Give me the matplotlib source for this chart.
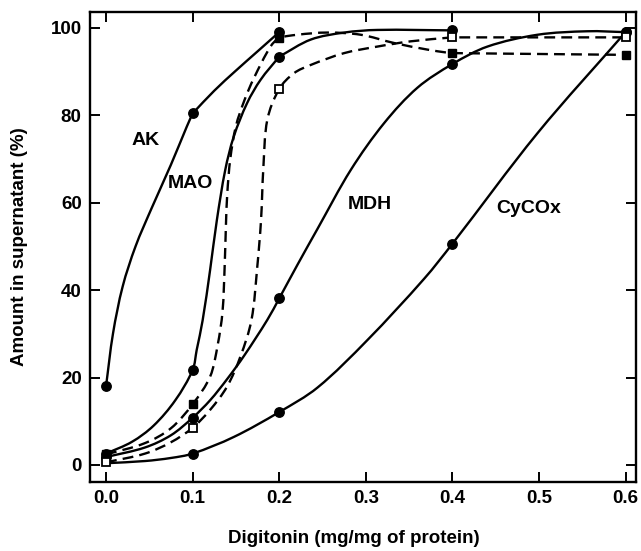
import matplotlib
matplotlib.use("Agg")
import matplotlib.pyplot as plt
from matplotlib.path import Path
from matplotlib.patches import PathPatch

plt.rcParams["font.family"] = ["Liberation Sans", "DejaVu Sans"]
plt.rcParams["font.weight"] = "bold"

# measured points (mg digitonin / mg protein -> % in supernatant)
doses = [0.0, 0.1, 0.2, 0.4, 0.6]
ak = [18.0, 80.4, 99.0]
mao = [2.6, 21.7, 93.4, 99.4]
mdh = [1.8, 10.8, 38.1, 91.7, 99.0]
cycox = [0.4, 2.6, 12.1, 50.6, 99.0]
filled_sq = [2.4, 13.9, 97.6, 94.2, 93.8]
open_sq = [0.6, 8.5, 86.0, 97.8, 97.8]

# points read along the hand-drawn curves between the measurements
ak_tx = [0.0081, 0.0192, 0.0341, 0.0526, 0.0748, 0.0933, 0.125, 0.15, 0.175]
ak_ty = [30.1, 40.8, 50.0, 58.7, 68.6, 77.4, 85.6, 90.2, 94.6]
mao_tx = [0.03, 0.055, 0.08, 0.1047, 0.1115, 0.1202, 0.128, 0.1377, 0.1475,
          0.163, 0.1785, 0.2365, 0.275, 0.3134]
mao_ty = [5.3, 9.0, 14.8, 26.3, 33.0, 44.6, 56.0, 67.5, 75.1,
          82.8, 88.1, 97.3, 98.9, 99.5]
mdh_tx = [0.045, 0.075, 0.1202, 0.1397, 0.1595, 0.1863, 0.2211, 0.2442,
          0.2827, 0.3212, 0.3597, 0.4405, 0.4983, 0.556]
mdh_ty = [4.0, 6.8, 14.8, 19.6, 25.0, 33.2, 45.8, 54.0,
          67.5, 78.2, 86.3, 95.7, 98.4, 99.2]
cycox_tx = [0.045, 0.075, 0.1475, 0.2442, 0.302, 0.3674, 0.4983]
cycox_ty = [0.9, 1.6, 6.4, 17.7, 28.6, 42.6, 75.9]
filled_tx = [0.045, 0.075, 0.1202, 0.129, 0.1345, 0.137, 0.1385, 0.14,
             0.1435, 0.15, 0.16, 0.1708, 0.19, 0.2211, 0.2558, 0.2942,
             0.3328, 0.3712, 0.3943]
filled_ty = [5.0, 8.4, 20.2, 27.5, 35.0, 45.4, 55.0, 62.0,
             70.0, 77.5, 83.5, 88.5, 95.7, 98.4, 98.9, 98.4,
             96.5, 95.0, 94.3]
open_tx = [0.045, 0.075, 0.1202, 0.1397, 0.1552, 0.168, 0.1747, 0.179,
           0.1817, 0.1863, 0.217, 0.2365, 0.275, 0.3135, 0.352]
open_ty = [2.6, 5.2, 12.6, 17.9, 24.8, 33.2, 45.4, 56.0,
           68.0, 79.0, 89.6, 91.5, 94.2, 95.7, 96.9]

labels = ["AK", "MAO", "MDH", "CyCOx"]
label_x = [0.0456, 0.097, 0.305, 0.488]
label_y = [74.1, 64.4, 59.6, 58.7]

XSPAN, YSPAN = 0.6305, 107.5   # axis ranges, used to measure chord length on screen
XPIX, YPIX = 546.0, 470.0


def smooth_path(xs, ys, corners=()):
    """Hermite spline through the points (chord-length parameter), as Beziers.
    At x values listed in `corners` the pen bends, as in the hand drawing."""
    pts = sorted(zip(xs, ys))
    n = len(pts)
    t = [0.0]
    for a, b in zip(pts[:-1], pts[1:]):
        du = (b[0] - a[0]) / XSPAN * XPIX
        dv = (b[1] - a[1]) / YSPAN * YPIX
        t.append(t[-1] + max((du * du + dv * dv) ** 0.5, 1e-6))

    def tangent(i, side):
        lo, hi = i - 1, i + 1
        if i == 0 or (side == "right" and pts[i][0] in corners):
            lo = i
        if i == n - 1 or (side == "left" and pts[i][0] in corners):
            hi = i
        dt = t[hi] - t[lo]
        return ((pts[hi][0] - pts[lo][0]) / dt, (pts[hi][1] - pts[lo][1]) / dt)

    verts = [pts[0]]
    codes = [Path.MOVETO]
    for i in range(n - 1):
        h = (t[i + 1] - t[i]) / 3
        m1 = tangent(i, "right")
        m2 = tangent(i + 1, "left")
        p1, p2 = pts[i], pts[i + 1]
        verts += [(p1[0] + m1[0] * h, p1[1] + m1[1] * h),
                  (p2[0] - m2[0] * h, p2[1] - m2[1] * h), p2]
        codes += [Path.CURVE4] * 3
    return Path(verts, codes)


def draw_curve(ax, xs, ys, dashed=False, corners=()):
    style = (0, (4.6, 2.6)) if dashed else "-"
    patch = PathPatch(smooth_path(xs, ys, corners), fill=False,
                      edgecolor="black", lw=1.7, linestyle=style, zorder=2,
                      capstyle="butt", joinstyle="round")
    ax.add_patch(patch)


fig = plt.figure(figsize=(6.41, 5.51), dpi=100)
ax = fig.add_axes([0.1404, 0.1252, 0.8518, 0.853])

draw_curve(ax, doses[:3] + ak_tx, ak + ak_ty, corners=(0.1,))
draw_curve(ax, doses[:4] + mao_tx, mao + mao_ty, corners=(0.2,))
draw_curve(ax, doses + mdh_tx, mdh + mdh_ty)
draw_curve(ax, doses + cycox_tx, cycox + cycox_ty)
draw_curve(ax, doses + filled_tx, filled_sq + filled_ty, dashed=True,
           corners=(0.4,))
draw_curve(ax, doses + open_tx, open_sq + open_ty, dashed=True,
           corners=(0.4,))

circ = dict(marker="o", ms=6.8, color="black", ls="none", zorder=3)
ax.plot(doses[:3], ak, **circ)
ax.plot(doses[:4], mao, **circ)
ax.plot(doses, mdh, **circ)
ax.plot(doses[1:], cycox[1:], **circ)
ax.plot(doses, filled_sq, marker="s", ms=6.0, color="black", ls="none", zorder=4)
ax.plot(doses, open_sq, marker="s", ms=5.4, mfc="white", mec="black", mew=1.3,
        ls="none", zorder=5)

for txt, x, y in zip(labels, label_x, label_y):
    ax.text(x, y, txt, ha="center", va="center", fontsize=14, fontweight="bold")

ax.set_xlim(-0.0185, 0.612)
ax.set_ylim(-3.9, 103.6)
ax.set_xticks([0.0, 0.1, 0.2, 0.3, 0.4, 0.5, 0.6])
ax.set_xticklabels(["0.0", "0.1", "0.2", "0.3", "0.4", "0.5", "0.6"])
ax.set_yticks([0, 20, 40, 60, 80, 100])
ax.tick_params(direction="in", length=7, width=1.4, top=True, right=True,
               labelsize=13.5, pad=6)
for sp in ax.spines.values():
    sp.set_linewidth(1.7)

ax.set_xlabel("Digitonin (mg/mg of protein)", fontsize=13.5, fontweight="bold")
ax.set_ylabel("Amount in supernatant (%)", fontsize=13.5, fontweight="bold")
ax.xaxis.set_label_coords(0.483, -0.102)
ax.yaxis.set_label_coords(-0.114, 0.5)

fig.savefig("out.png", dpi=100)
